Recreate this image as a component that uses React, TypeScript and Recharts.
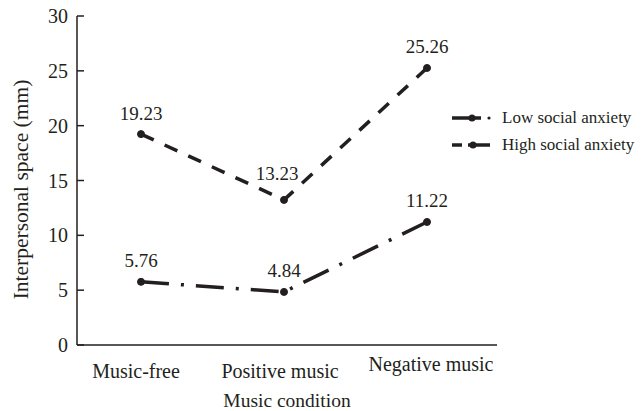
import React from 'react';
import { LineChart, Line, XAxis, YAxis, Legend, LabelList, Label } from 'recharts';

const categories = ['Music-free', 'Positive music', 'Negative music'];
const lowAnxiety = [5.76, 4.84, 11.22];
const highAnxiety = [19.23, 13.23, 25.26];
const yTicks = [0, 5, 10, 15, 20, 25, 30];
const seriesNames = ['Low social anxiety', 'High social anxiety'];

const data = categories.map((c, i) => ({ name: c, low: lowAnxiety[i], high: highAnxiety[i] }));

const FONT = '"Liberation Serif", "DejaVu Serif", serif';
const INK = '#231f20';

const tickDx = [-5, -4, 4];
const tickDy = [0, 0, -7];

const XTick = (props: any) => {
  const { x, y, payload, index } = props;
  return (
    <text
      x={x + (tickDx[index] || 0)}
      y={y + 18 + (tickDy[index] || 0)}
      textAnchor="middle"
      dominantBaseline="central"
      fontFamily={FONT}
      fontSize={20}
      fill={INK}
    >
      {payload.value}
    </text>
  );
};

const makeLabel = (shift: { [k: number]: [number, number] }) => (props: any) => {
  const { x, y, value, index } = props;
  const s = shift[index] || [0, 0];
  return (
    <text
      x={x + s[0]}
      y={y - 21 + s[1]}
      textAnchor="middle"
      dominantBaseline="central"
      fontFamily={FONT}
      fontSize={19}
      fill={INK}
    >
      {Number(value).toFixed(2)}
    </text>
  );
};

const LegendBox = () => (
  <div style={{ fontFamily: FONT, fontSize: 17, color: INK, lineHeight: '27px', textAlign: 'left' }}>
    <div style={{ display: 'flex', alignItems: 'center', height: 27 }}>
      <svg width={46} height={12} style={{ marginRight: 4 }}>
        <line x1={0} y1={6} x2={29} y2={6} stroke={INK} strokeWidth={3.5} />
        <circle cx={20} cy={6} r={3.5} fill={INK} />
        <circle cx={37} cy={6} r={1.6} fill={INK} />
      </svg>
      <span>{seriesNames[0]}</span>
    </div>
    <div style={{ display: 'flex', alignItems: 'center', height: 27 }}>
      <svg width={46} height={12} style={{ marginRight: 4 }}>
        <line x1={0} y1={6} x2={10} y2={6} stroke={INK} strokeWidth={3.5} />
        <line x1={16} y1={6} x2={38} y2={6} stroke={INK} strokeWidth={3.5} />
        <circle cx={21} cy={6} r={3.5} fill={INK} />
      </svg>
      <span>{seriesNames[1]}</span>
    </div>
  </div>
);

export default function App() {
  return (
    <div style={{ position: 'absolute', left: 0, top: 0 }}>
      <LineChart width={642} height={411} data={data} margin={{ top: 16, right: 145, bottom: 0, left: 0 }}>
        <XAxis
          dataKey="name"
          padding={{ left: 64, right: 70 }}
          tickLine={false}
          axisLine={{ stroke: INK, strokeWidth: 1.5 }}
          tick={<XTick />}
          height={66}
          interval={0}
        >
          <Label
            content={(p: any) => {
              const vb = p.viewBox;
              return (
                <text
                  x={vb.x + vb.width / 2}
                  y={vb.y + 55}
                  textAnchor="middle"
                  dominantBaseline="central"
                  fontFamily={FONT}
                  fontSize={19.5}
                  fill={INK}
                >
                  Music condition
                </text>
              );
            }}
          />
        </XAxis>
        <YAxis
          width={77}
          domain={[0, 30]}
          ticks={yTicks}
          interval={0}
          tickSize={-7}
          tickMargin={16}
          tickLine={{ stroke: INK, strokeWidth: 1.5 }}
          axisLine={{ stroke: INK, strokeWidth: 1.5 }}
          tick={{ fontFamily: FONT, fontSize: 20, fill: INK }}
        >
          <Label
            content={(p: any) => {
              const vb = p.viewBox;
              const cx = vb.x + 21;
              const cy = vb.y + vb.height / 2 + 9;
              return (
                <text
                  x={cx}
                  y={cy}
                  transform={`rotate(-90, ${cx}, ${cy})`}
                  textAnchor="middle"
                  dominantBaseline="central"
                  fontFamily={FONT}
                  fontSize={21.5}
                  fill={INK}
                >
                  Interpersonal space (mm)
                </text>
              );
            }}
          />
        </YAxis>
        <Legend
          layout="horizontal"
          verticalAlign="middle"
          align="center"
          content={() => <LegendBox />}
          wrapperStyle={{ position: 'absolute', left: 452, top: 104, width: 190 }}
        />
        <Line
          type="linear"
          dataKey="low"
          name={seriesNames[0]}
          stroke={INK}
          strokeWidth={3.5}
          strokeDasharray="28 12 3 12"
          dot={{ r: 3.5, fill: INK, stroke: INK, strokeWidth: 1, strokeDasharray: '0' }}
          isAnimationActive={false}
        >
          <LabelList dataKey="low" content={makeLabel({})} />
        </Line>
        <Line
          type="linear"
          dataKey="high"
          name={seriesNames[1]}
          stroke={INK}
          strokeWidth={3.5}
          strokeDasharray="14 12"
          dot={{ r: 3.5, fill: INK, stroke: INK, strokeWidth: 1, strokeDasharray: '0' }}
          isAnimationActive={false}
        >
          <LabelList dataKey="high" content={makeLabel({ 1: [-7, -5] })} />
        </Line>
      </LineChart>
    </div>
  );
}
